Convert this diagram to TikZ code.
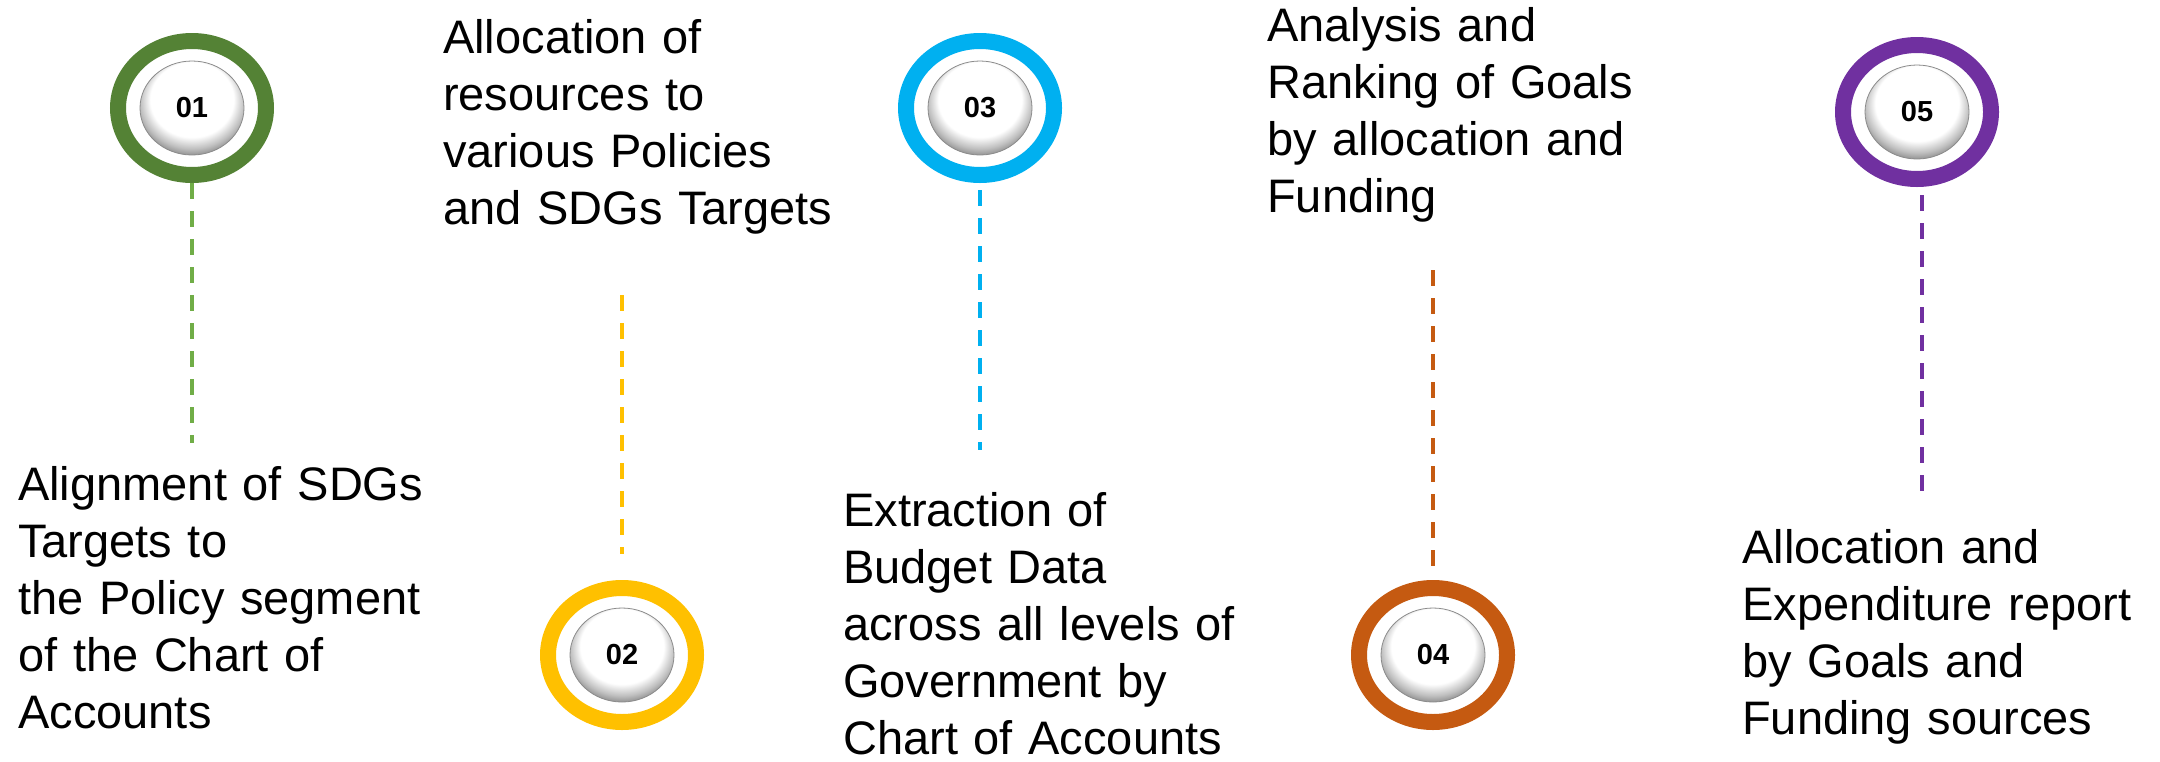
\documentclass[tikz,border=0pt]{standalone}
\usepackage{fontspec}
\setmainfont{Liberation Sans}
\usetikzlibrary{shapes.geometric}

\definecolor{ringA}{HTML}{548235}
\definecolor{lineA}{HTML}{70AD47}
\definecolor{ringB}{HTML}{FFC000}
\definecolor{ringC}{HTML}{00B0F0}
\definecolor{ringD}{HTML}{C55A11}
\definecolor{ringE}{HTML}{7030A0}

% pearl-like button: white on top, grey towards the lower rim
\pgfdeclareradialshading{pearl}{\pgfpoint{0bp}{9bp}}{%
  color(0bp)=(white); color(20bp)=(white); color(25bp)=(black!25);
  color(29bp)=(black!50); color(33bp)=(black!62); color(40bp)=(black!62)}

\tikzset{
  ring/.style={ellipse, draw=#1, line width=16pt, fill=white,
    minimum width=148pt, minimum height=134pt, inner sep=0pt},
  pearlbtn/.style={ellipse, shading=pearl, draw=black!45, line width=0.8pt,
    minimum width=104pt, minimum height=94pt, inner sep=0pt,
    font=\bfseries\fontsize{29}{29}\selectfont},
  dashline/.style={draw=#1, line width=4pt, dash pattern=on 16pt off 12pt},
  steptext/.style={anchor=base west, inner sep=0pt, text width=460pt,
    align=left, font=\fontsize{47}{57}\selectfont}
}

\begin{document}
\begin{tikzpicture}[x=1pt, y=-1pt]
\useasboundingbox (0,0) rectangle (2160,761);

% rings with their numbered buttons
\node[ring=ringA] (r1) at (192,108) {};
\node[pearlbtn] (b1) at (r1.center) {01};
\node[ring=ringB] (r2) at (622,655) {};
\node[pearlbtn] (b2) at (r2.center) {02};
\node[ring=ringC] (r3) at (980,108) {};
\node[pearlbtn] (b3) at (r3.center) {03};
\node[ring=ringD] (r4) at (1433,655) {};
\node[pearlbtn] (b4) at (r4.center) {04};
\node[ring=ringE] (r5) at (1917,112) {};
\node[pearlbtn] (b5) at (r5.center) {05};

% free ends of the dashed leaders
\coordinate (e1) at (192,443);
\coordinate (e2) at (622,295);
\coordinate (e3) at (980,450);
\coordinate (e4) at (1433,270);
\coordinate (e5) at (1922,496);

\draw[dashline=lineA] (r1.south) -- (e1);
\draw[dashline=ringB, shorten >=26pt] (e2) -- (r2.north);
\draw[dashline=ringC, shorten <=7pt] (r3.south) -- (e3);
\draw[dashline=ringD, shorten >=13pt] (e4) -- (r4.north);
\draw[dashline=ringE, shorten <=8pt] (r5.south -| e5) -- (e5);

% step descriptions
\node[steptext] (t1) at (18,500) {Alignment of SDGs\\Targets to\\the Policy segment\\of the Chart of\\Accounts};
\node[steptext] (t2) at (443,53) {Allocation of\\resources to\\various Policies\\and SDGs Targets};
\node[steptext] (t3) at (843,526) {Extraction of\\Budget Data\\across all levels of\\Government by\\Chart of Accounts};
\node[steptext] (t4) at (1267,41) {Analysis and\\Ranking of Goals\\by allocation and\\Funding};
\node[steptext] (t5) at (1742,563) {Allocation and\\Expenditure report\\by Goals and\\Funding sources};
\end{tikzpicture}
\end{document}
